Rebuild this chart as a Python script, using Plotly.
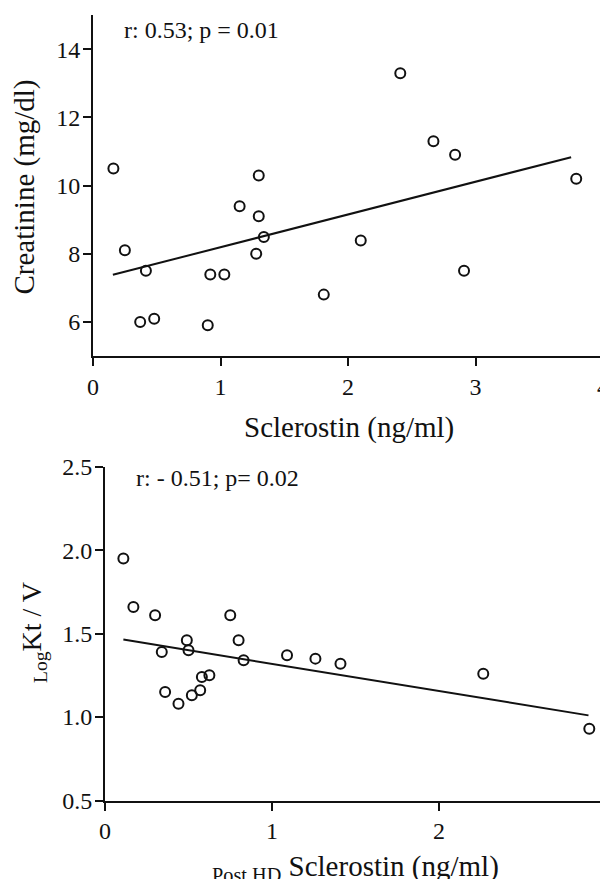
import plotly.graph_objects as go

# The page adds an 8 px body margin, so the figure is drawn 8 px in and down.
OFF = 8
W, H = 608 - OFF, 879 - OFF

# ---- Top panel data: Sclerostin vs Creatinine ----
scl_top = [0.16, 0.25, 0.415, 0.37, 0.48, 0.90, 0.92, 1.03, 1.15, 1.30,
           1.30, 1.34, 1.28, 1.81, 2.10, 2.41, 2.67, 2.84, 2.91, 3.79]
creat = [10.5, 8.1, 7.5, 6.0, 6.09, 5.9, 7.39, 7.39, 9.39, 10.29,
         9.1, 8.49, 8.0, 6.8, 8.39, 13.29, 11.3, 10.9, 7.5, 10.2]
fit_top_x = [0.156, 3.75]
fit_top_y = [7.38, 10.83]
top_xticks = [0, 1, 2, 3, 4]
top_yticks = [6, 8, 10, 12, 14]

# ---- Bottom panel data: Post HD Sclerostin vs Log Kt/V ----
scl_bot = [0.11, 0.17, 0.30, 0.34, 0.36, 0.44, 0.49, 0.50, 0.52, 0.57,
           0.58, 0.625, 0.75, 0.80, 0.83, 1.09, 1.26, 1.41, 2.265, 2.90]
ktv = [1.95, 1.66, 1.61, 1.39, 1.15, 1.08, 1.46, 1.40, 1.13, 1.16,
       1.24, 1.25, 1.61, 1.46, 1.34, 1.37, 1.35, 1.32, 1.26, 0.93]
fit_bot_x = [0.11, 2.895]
fit_bot_y = [1.464, 1.01]
bot_xticks = [0, 1, 2, 3]
bot_yticks = [0.5, 1.0, 1.5, 2.0, 2.5]

FONT = "Liberation Serif"
INK = "#111111"

def px_x(p):
    return (p - OFF) / W

def px_y(p):
    return (H - (p - OFF)) / H

fig = go.Figure()

marker = dict(symbol="circle-open", size=10, color=INK, line=dict(width=2, color=INK))

fig.add_trace(go.Scatter(x=scl_top, y=creat, mode="markers", marker=marker,
                         xaxis="x", yaxis="y", showlegend=False))
fig.add_trace(go.Scatter(x=fit_top_x, y=fit_top_y, mode="lines",
                         line=dict(color=INK, width=2), xaxis="x", yaxis="y",
                         showlegend=False))
fig.add_trace(go.Scatter(x=scl_bot, y=ktv, mode="markers", marker=marker,
                         xaxis="x2", yaxis="y2", showlegend=False))
fig.add_trace(go.Scatter(x=fit_bot_x, y=fit_bot_y, mode="lines",
                         line=dict(color=INK, width=2), xaxis="x2", yaxis="y2",
                         showlegend=False))

axis_common = dict(showline=True, linecolor=INK, linewidth=2, ticks="outside",
                   ticklen=8, tickwidth=2, tickcolor=INK, showgrid=False,
                   zeroline=False, automargin=False, ticklabeloverflow="allow",
                   tickfont=dict(family=FONT, size=24, color=INK))

fig.update_layout(
    width=W, height=H,
    margin=dict(l=0, r=0, t=0, b=0),
    paper_bgcolor="white", plot_bgcolor="white",
    font=dict(family=FONT, color=INK),
    xaxis=dict(domain=[px_x(93), px_x(603)], range=[0, 4], tickvals=top_xticks,
               anchor="y", **axis_common),
    yaxis=dict(domain=[px_y(356), px_y(15)], range=[5, 15], tickvals=top_yticks,
               anchor="x", ticklabelstandoff=-2, **axis_common),
    xaxis2=dict(domain=[px_x(105), px_x(606)], range=[0, 3], tickvals=bot_xticks,
                anchor="y2", **axis_common),
    yaxis2=dict(domain=[px_y(800.5), px_y(466.7)], range=[0.5, 2.5],
                tickvals=bot_yticks, tickformat=".1f", anchor="x2",
                ticklabelstandoff=-2, **axis_common),
)

def ann(text, x, y, size, xanchor="center", angle=0):
    fig.add_annotation(text=text, x=px_x(x), y=px_y(y), xref="paper", yref="paper",
                       xanchor=xanchor, yanchor="middle", showarrow=False,
                       textangle=angle, font=dict(family=FONT, size=size, color=INK))

ann("r: 0.53; p = 0.01", 122, 29.5, 24, xanchor="left")
ann("r: - 0.51; p= 0.02", 133.5, 478, 24, xanchor="left")
ann("Sclerostin (ng/ml)", 349, 428, 29)
ann("Creatinine (mg/dl)", 24, 187.5, 29, angle=-90)
ann("<sub>Post HD</sub> Sclerostin (ng/ml)", 355, 868, 29)
ann("<sub>Log</sub>Kt / V", 33, 633, 28, angle=-90)

fig.write_html("out.html")
